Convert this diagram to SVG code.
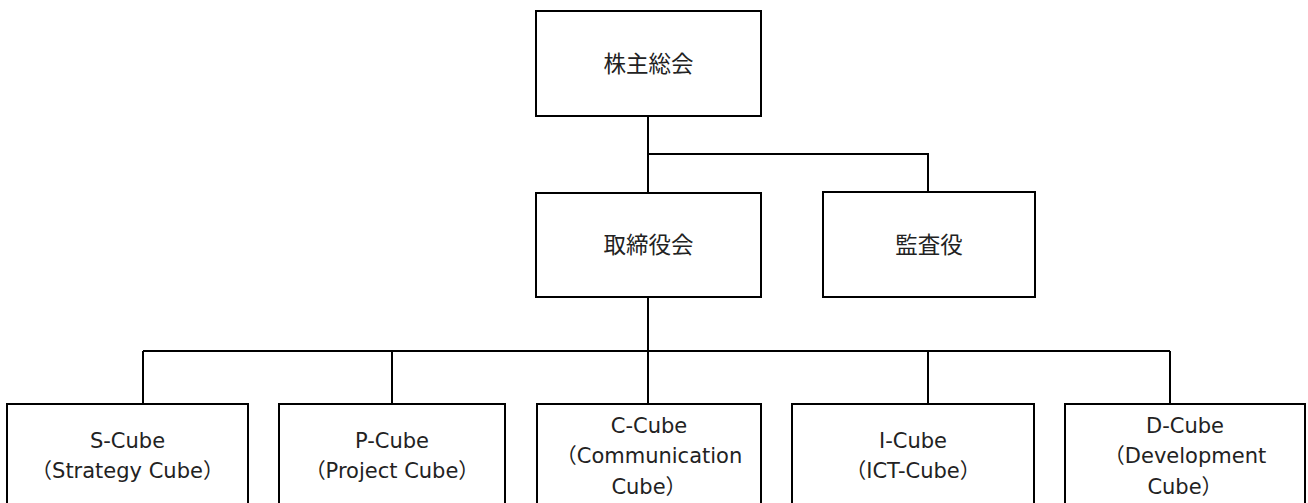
<svg xmlns="http://www.w3.org/2000/svg" width="1308" height="503" viewBox="0 0 1308 503">
<style>
.box{fill:#fff;stroke:#000;stroke-width:2}
.ln{fill:none;stroke:#000;stroke-width:2}
text{font-family:"DejaVu Sans","Noto Sans CJK JP",sans-serif;font-size:21px;fill:#222;text-anchor:middle}
text.jp{font-size:22.5px}
</style>
<rect width="1308" height="503" fill="#fff"/>
<g id="connectors">
<path class="ln" d="M648 116V193M648 154H928V192"/>
<path class="ln" d="M648 297V404M143 351H1170M143 351V404M392 351V404M928 351V404M1170 351V404"/>
</g>
<g id="n1"><rect class="box" x="536" y="11" width="225" height="105"/><text class="jp" x="648.5" y="72">株主総会</text></g>
<g id="n2"><rect class="box" x="536" y="193" width="225" height="104"/><text class="jp" x="648.5" y="253">取締役会</text></g>
<g id="n3"><rect class="box" x="823" y="192" width="212" height="105"/><text class="jp" x="929" y="253">監査役</text></g>
<g id="n4"><rect class="box" x="7" y="404" width="241" height="110"/><text x="127.5" y="448">S-Cube</text><text x="127.5" y="478">（Strategy Cube）</text></g>
<g id="n5"><rect class="box" x="279" y="404" width="226" height="110"/><text x="392" y="448">P-Cube</text><text x="392" y="478">（Project Cube）</text></g>
<g id="n6"><rect class="box" x="537" y="404" width="224" height="110"/><text x="649" y="433">C-Cube</text><text x="649" y="463">（Communication </text><text x="649" y="494">Cube）</text></g>
<g id="n7"><rect class="box" x="792" y="404" width="242" height="110"/><text x="913" y="448">I-Cube</text><text x="913" y="478">（ICT-Cube）</text></g>
<g id="n8"><rect class="box" x="1065" y="404" width="240" height="110"/><text x="1185" y="433">D-Cube</text><text x="1185" y="463">（Development </text><text x="1185" y="494">Cube）</text></g>
</svg>
